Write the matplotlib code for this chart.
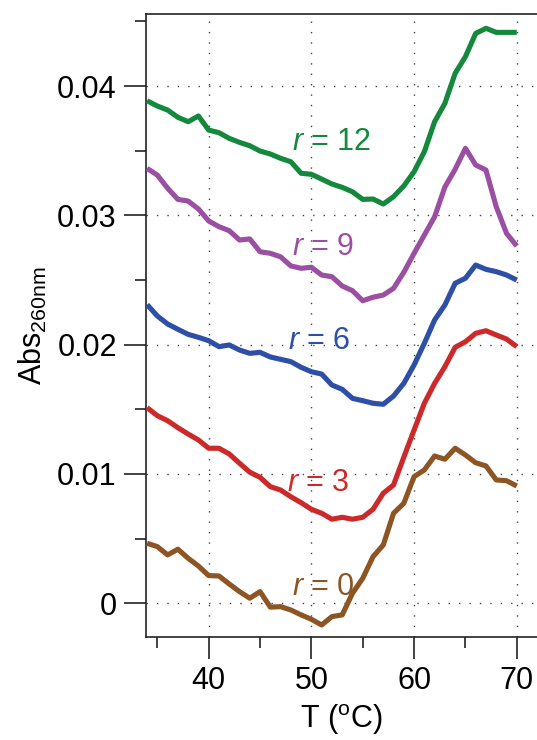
import matplotlib
matplotlib.use("Agg")
import matplotlib.pyplot as plt
from matplotlib.ticker import MultipleLocator

plt.rcParams['font.family'] = ['Liberation Sans', 'DejaVu Sans']
plt.rcParams['mathtext.fontset'] = 'custom'
plt.rcParams['mathtext.rm'] = 'Liberation Sans'
plt.rcParams['mathtext.it'] = 'Liberation Sans:italic'

# Temperature (deg C)
temperature = list(range(34, 71))

abs_r0 = [0.00464, 0.00438, 0.00374, 0.00418, 0.00348, 0.00288, 0.00214, 0.00211,
          0.00149, 0.00090, 0.00039, 0.00090, -0.00030, -0.00026, -0.00052, -0.00090,
          -0.00124, -0.00168, -0.00103, -0.00090, 0.00077, 0.00193, 0.00360, 0.00451,
          0.00696, 0.00773, 0.00979, 0.01031, 0.01139, 0.01114, 0.01199, 0.01147,
          0.01087, 0.01062, 0.00954, 0.00948, 0.00907]
abs_r3 = [0.01513, 0.01451, 0.01412, 0.01358, 0.01309, 0.01263, 0.01199, 0.01199,
          0.01155, 0.01083, 0.01014, 0.00974, 0.00902, 0.00876, 0.00824, 0.00778,
          0.00727, 0.00696, 0.00650, 0.00665, 0.00650, 0.00665, 0.00727, 0.00851,
          0.00915, 0.01130, 0.01340, 0.01547, 0.01701, 0.01830, 0.01980, 0.02023,
          0.02088, 0.02108, 0.02075, 0.02044, 0.01985]
abs_r6 = [0.02310, 0.02222, 0.02160, 0.02119, 0.02080, 0.02057, 0.02031, 0.01985,
          0.01998, 0.01959, 0.01933, 0.01941, 0.01905, 0.01887, 0.01869, 0.01825,
          0.01791, 0.01773, 0.01688, 0.01655, 0.01585, 0.01567, 0.01547, 0.01539,
          0.01603, 0.01701, 0.01843, 0.02011, 0.02191, 0.02307, 0.02475, 0.02514,
          0.02616, 0.02583, 0.02565, 0.02539, 0.02500]
abs_r9 = [0.03364, 0.03312, 0.03210, 0.03124, 0.03111, 0.03050, 0.02957, 0.02913,
          0.02882, 0.02810, 0.02818, 0.02719, 0.02707, 0.02680, 0.02609, 0.02591,
          0.02599, 0.02539, 0.02526, 0.02454, 0.02418, 0.02340, 0.02367, 0.02384,
          0.02436, 0.02560, 0.02707, 0.02848, 0.02990, 0.03220, 0.03357, 0.03519,
          0.03390, 0.03351, 0.03067, 0.02862, 0.02763]
abs_r12 = [0.03887, 0.03846, 0.03815, 0.03759, 0.03725, 0.03769, 0.03660, 0.03640,
           0.03596, 0.03565, 0.03539, 0.03498, 0.03475, 0.03442, 0.03415, 0.03326,
           0.03318, 0.03281, 0.03243, 0.03217, 0.03183, 0.03124, 0.03127, 0.03088,
           0.03145, 0.03228, 0.03338, 0.03493, 0.03725, 0.03867, 0.04099, 0.04228,
           0.04408, 0.04447, 0.04416, 0.04416, 0.04416]

series = [abs_r0, abs_r3, abs_r6, abs_r9, abs_r12]
labels = ["$r$ = 0", "$r$ = 3", "$r$ = 6", "$r$ = 9", "$r$ = 12"]
colors = ["#8c5523", "#cc2a2a", "#2e4fa6", "#9a4fa2", "#14893d"]
label_xy = [(48.1, 0.00064), (47.6, 0.00868), (47.7, 0.01964), (48.1, 0.02694), (48.1, 0.03506)]

fig = plt.figure(figsize=(5.37, 7.40), dpi=100)
ax = fig.add_axes([146 / 537, 103 / 740, 1 - 146 / 537, (637 - 14) / 740])

ax.set_xlim(33.895, 71.97)
ax.set_ylim(-0.00261, 0.04558)

ax.xaxis.set_major_locator(MultipleLocator(10))
ax.xaxis.set_minor_locator(MultipleLocator(5))
ax.yaxis.set_major_locator(MultipleLocator(0.01))
ax.yaxis.set_minor_locator(MultipleLocator(0.005))
ax.set_yticks([0, 0.01, 0.02, 0.03, 0.04])
ax.set_yticklabels(["0", "0.01", "0.02", "0.03", "0.04"])
ax.set_xticks([40, 50, 60, 70])

ax.grid(True, which='major', linestyle=(0, (1, 6.5)), color='#444444', linewidth=1.0)

for vals, lab, col, (lx, ly) in zip(series, labels, colors, label_xy):
    ax.plot(temperature, vals, color=col, linewidth=3.7, solid_joinstyle='round',
            solid_capstyle='butt', zorder=3)
    ax.text(lx, ly, lab, color=col, fontsize=22, ha='left', va='baseline', zorder=4)

ax.spines['right'].set_visible(False)
for side in ['left', 'bottom', 'top']:
    ax.spines[side].set_linewidth(1.2)
    ax.spines[side].set_color('#222222')

ax.tick_params(which='major', direction='out', length=16, width=1.2, color='#222222',
               labelsize=22, pad=5)
ax.tick_params(which='minor', direction='out', length=8, width=1.2, color='#222222')

ax.set_ylabel("Abs$_{\\mathrm{260nm}}$", fontsize=22, labelpad=6)
ax.set_xlabel("T ($^{\\mathrm{o}}$C)", fontsize=22, labelpad=4)

fig.savefig("out.png", dpi=100)
